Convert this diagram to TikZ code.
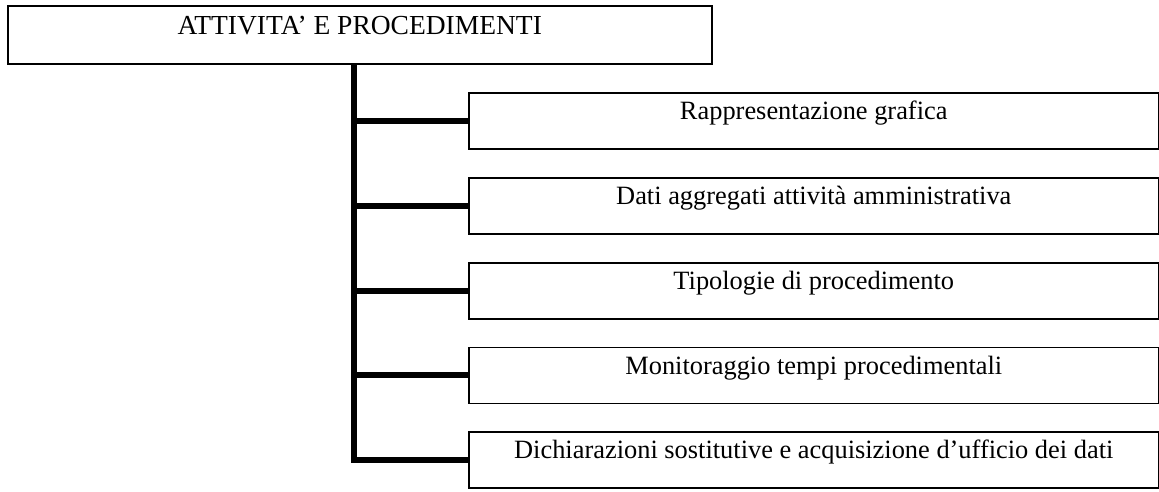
\documentclass[tikz,border=0pt]{standalone}
\usepackage{fontspec}
\setmainfont{Liberation Serif}
\begin{document}
\begin{tikzpicture}[x=1pt,y=-1pt,
  boxstyle/.style={draw=black, line width=1.5pt, rectangle, inner sep=0pt,
    anchor=north west, font=\fontsize{26.4}{30}\selectfont,
    text height=27pt, text depth=29pt},
  branch/.style={line width=6pt}]
\useasboundingbox (0,0) rectangle (1159,491);
\node[boxstyle, minimum width=704pt, text height=28.5pt, text depth=29.5pt,
  font=\fontsize{27.5}{31}\selectfont] (title) at (7,5) {ATTIVITA’ E PROCEDIMENTI};
\node[boxstyle, minimum width=690pt] (b1) at (468,92) {Rappresentazione grafica};
\node[boxstyle, minimum width=690pt] (b2) at (468,177) {Dati aggregati attività amministrativa};
\node[boxstyle, minimum width=690pt] (b3) at (468,262) {Tipologie di procedimento};
\node[boxstyle, minimum width=690pt] (b4) at (468,346.5) {Monitoraggio tempi procedimentali};
\node[boxstyle, minimum width=690pt] (b5) at (468,431) {Dichiarazioni sostitutive e acquisizione d’ufficio dei dati};
\coordinate (top) at ([xshift=-6pt]title.south);
\draw[branch] (top) |- (b5.west);
\foreach \b in {b1,b2,b3,b4}{
  \draw[branch] (top |- \b.west) -- (\b.west);
}
\end{tikzpicture}
\end{document}
